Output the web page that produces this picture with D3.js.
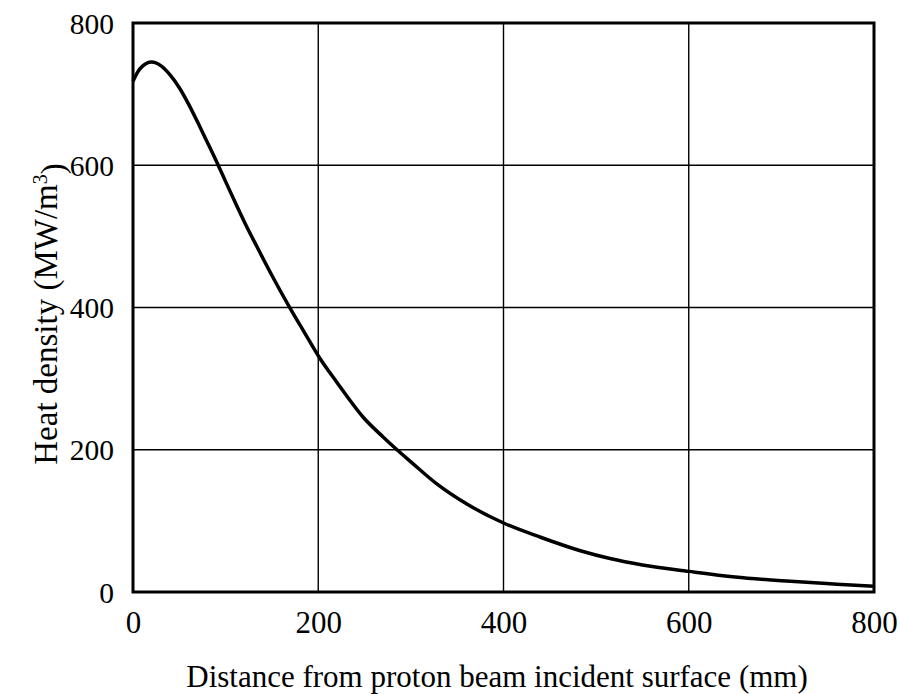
<!DOCTYPE html>
<html>
<head>
<meta charset="utf-8">
<script src="https://cdn.jsdelivr.net/npm/d3@7"></script>
<style>
  body { margin: 0; background: #fff; }
  text { font-family: "Liberation Serif", "Times New Roman", serif; fill: #000; }
</style>
</head>
<body>
<div id="chart"></div>
<script>
// data
const distance = [0, 5, 10, 20, 30, 40, 50, 60, 70, 80, 92, 100, 112, 120, 134, 150, 170, 185, 201, 220, 249, 270, 285, 300, 328, 360, 400, 440, 483, 515, 550, 600, 650, 710, 760, 800];
const heat     = [718, 731, 739, 745, 740, 727, 709, 686, 660, 633, 600, 577, 543, 521, 485, 445, 398, 365, 330, 295, 245, 218, 200, 183, 152, 124, 97, 77, 58, 47, 38, 29, 21, 15, 11, 8];
const xTicks = [0, 200, 400, 600, 800];
const yTicks = [0, 200, 400, 600, 800];

const margin = { top: 23, right: 26, bottom: 102, left: 133 };
const width = 900 - margin.left - margin.right;
const height = 694 - margin.top - margin.bottom;

const svg = d3.select("#chart")
    .append("svg")
    .attr("width", 900)
    .attr("height", 694);

const g = svg.append("g")
    .attr("transform", `translate(${margin.left},${margin.top})`);

const xScale = d3.scaleLinear().domain([0, 800]).range([0, width]);
const yScale = d3.scaleLinear().domain([0, 800]).range([height, 0]);

// grid lines
g.selectAll(".vgrid")
    .data(xTicks.slice(1, -1))
    .enter()
    .append("line")
    .attr("x1", d => xScale(d))
    .attr("x2", d => xScale(d))
    .attr("y1", 0)
    .attr("y2", height)
    .style("stroke", "#000")
    .style("stroke-width", 1.4);

g.selectAll(".hgrid")
    .data(yTicks.slice(1, -1))
    .enter()
    .append("line")
    .attr("x1", 0)
    .attr("x2", width)
    .attr("y1", d => yScale(d))
    .attr("y2", d => yScale(d))
    .style("stroke", "#000")
    .style("stroke-width", 1.4);

// frame
g.append("rect")
    .attr("width", width)
    .attr("height", height)
    .style("fill", "none")
    .style("stroke", "#000")
    .style("stroke-width", 3);

// axes, labels only
const xAxis = g.append("g")
    .attr("transform", `translate(0,${height})`)
    .call(d3.axisBottom(xScale).tickValues(xTicks).tickSize(0).tickFormat(d3.format("d")));
xAxis.select(".domain").remove();
xAxis.selectAll("text")
    .attr("y", 41)
    .attr("dy", 0)
    .style("font-size", "31px")
    .style("font-family", "'Liberation Serif', serif");

const yAxis = g.append("g")
    .call(d3.axisLeft(yScale).tickValues(yTicks).tickSize(0).tickPadding(19).tickFormat(d3.format("d")));
yAxis.select(".domain").remove();
yAxis.selectAll("text")
    .attr("dy", "0.34em")
    .style("font-size", "29.5px")
    .style("font-family", "'Liberation Serif', serif");

// curve
const line = d3.line()
    .x((d, i) => xScale(distance[i]))
    .y(d => yScale(d))
    .curve(d3.curveMonotoneX);

g.append("path")
    .datum(heat)
    .attr("d", line)
    .style("fill", "none")
    .style("stroke", "#000")
    .style("stroke-width", 3.5);

// axis titles
svg.append("text")
    .attr("x", 497)
    .attr("y", 687)
    .attr("text-anchor", "middle")
    .style("font-size", "31px")
    .text("Distance from proton beam incident surface (mm)");

const yTitle = svg.append("text")
    .attr("transform", "translate(57,314) rotate(-90)")
    .attr("text-anchor", "middle")
    .style("font-size", "33px");
yTitle.append("tspan").text("Heat density (MW/m");
yTitle.append("tspan").attr("dy", "-0.5em").style("font-size", "20px").text("3");
yTitle.append("tspan").attr("dy", "0.5em").text(")");
</script>
</body>
</html>
